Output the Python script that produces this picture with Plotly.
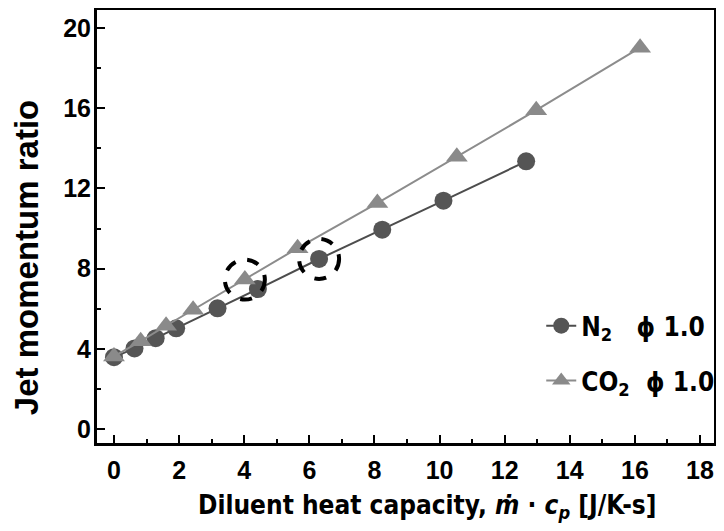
import plotly.graph_objects as go

n2_x = [0.0, 0.63, 1.28, 1.91, 3.18, 4.42, 6.3, 8.24, 10.12, 12.66]
n2_y = [3.58, 4.02, 4.53, 5.02, 6.02, 6.98, 8.48, 9.94, 11.39, 13.35]
co2_x = [0.0, 0.82, 1.6, 2.43, 4.02, 5.64, 8.09, 10.53, 12.97, 16.16]
co2_y = [3.62, 4.38, 5.15, 5.95, 7.45, 9.02, 11.27, 13.58, 15.9, 19.02]
n2_name = "N<sub>2</sub>   ϕ 1.0"
co2_name = "CO<sub>2</sub>  ϕ 1.0"
highlight_co2_idx = 4
highlight_n2_idx = 6
x_ticks = [0, 2, 4, 6, 8, 10, 12, 14, 16, 18]
y_ticks = [0, 4, 8, 12, 16, 20]
x_title = "Diluent heat capacity, <i>ṁ</i> · <i>c<sub>p</sub></i> [J/K-s]"
y_title = "Jet momentum ratio"

narrow = "DejaVu Sans Condensed, Liberation Sans Narrow, Arial Narrow, DejaVu Sans"
sans = "Liberation Sans, Arial, Helvetica"

fig = go.Figure()
fig.add_trace(go.Scatter(x=n2_x, y=n2_y, mode="lines+markers", name=n2_name, legendgroup="n2",
                         line=dict(color="#4d4d4d", width=2),
                         marker=dict(symbol="circle", size=18, color="#555555")))
fig.add_trace(go.Scatter(x=co2_x, y=co2_y, mode="lines+markers", name=co2_name, legendgroup="co2",
                         line=dict(color="#8c8c8c", width=2),
                         marker=dict(symbol="triangle-up", size=19, color="#8a8a8a")))

for xs, ys, i in [(co2_x, co2_y, highlight_co2_idx), (n2_x, n2_y, highlight_n2_idx)]:
    fig.add_shape(type="circle", xref="x", yref="y", xsizemode="pixel", ysizemode="pixel",
                  xanchor=xs[i], yanchor=ys[i], x0=-20, x1=20, y0=-20, y1=20,
                  line=dict(color="black", width=4, dash="dash"))

fig.add_annotation(text=x_title, xref="paper", yref="paper", x=0.535, y=-0.1455,
                   xanchor="center", yanchor="middle", showarrow=False,
                   font=dict(family=narrow, size=26, color="black", weight="bold"))
fig.add_annotation(text=y_title, xref="paper", yref="paper", x=-0.115, y=0.427,
                   xanchor="center", yanchor="middle", showarrow=False, textangle=-90,
                   font=dict(family=sans, size=33, color="black", weight="bold"))

fig.update_layout(
    width=708, height=515,
    margin=dict(l=89, r=2, t=2, b=80, autoexpand=False),
    plot_bgcolor="white", paper_bgcolor="white",
    showlegend=True,
    legend=dict(x=0.72, y=0.325, xanchor="left", yanchor="top",
                font=dict(family=narrow, size=26, color="black", weight="bold"),
                bgcolor="rgba(0,0,0,0)", tracegroupgap=18),
    font=dict(family=sans, color="black"),
)
fig.update_xaxes(range=[-0.522, 18.43], tickvals=x_ticks, automargin=False,
                 ticks="inside", ticklen=8, tickwidth=2, tickcolor="black",
                 minor=dict(ticks="inside", ticklen=4, tickwidth=2, tickcolor="black", dtick=1),
                 showline=True, linewidth=3, linecolor="black", mirror=True,
                 showgrid=False, zeroline=False, ticklabelstandoff=3,
                 tickfont=dict(family=sans, size=25, color="black", weight="bold"))
fig.update_yaxes(range=[-0.7, 20.9], tickvals=y_ticks, automargin=False,
                 ticks="inside", ticklen=8, tickwidth=2, tickcolor="black",
                 minor=dict(ticks="inside", ticklen=4, tickwidth=2, tickcolor="black", dtick=2),
                 showline=True, linewidth=3, linecolor="black", mirror=True,
                 showgrid=False, zeroline=False, ticklabelstandoff=-2,
                 tickfont=dict(family=sans, size=25, color="black", weight="bold"))

fig.write_html("out.html")
